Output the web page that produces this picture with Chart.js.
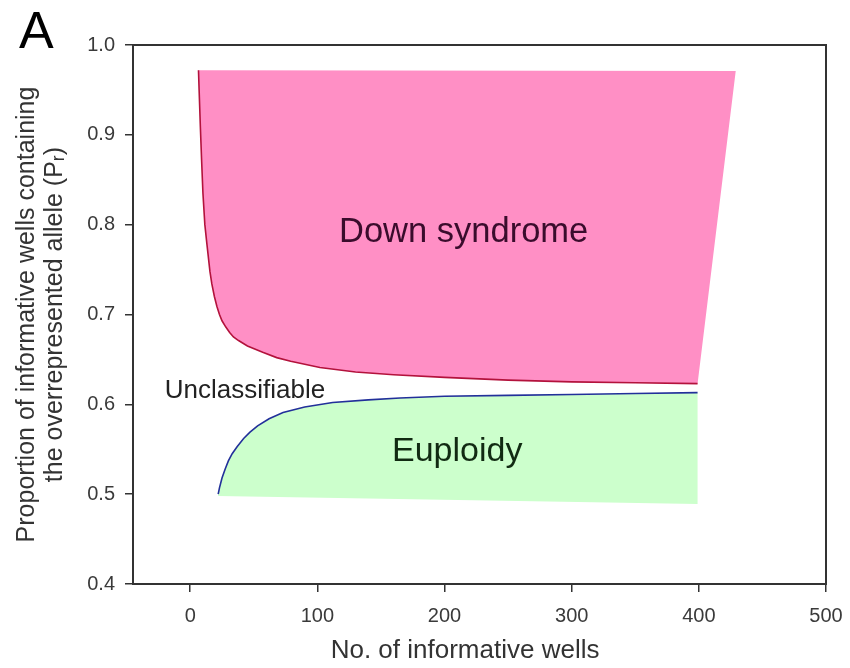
<!DOCTYPE html>
<html><head><meta charset="utf-8">
<script src="https://cdn.jsdelivr.net/npm/chart.js@4/dist/chart.umd.min.js"></script>
<style>html,body{margin:0;padding:0;background:#fff}#wrap{width:850px;height:668px}</style>
</head><body><div id="wrap"><canvas id="c" width="850" height="668"></canvas></div>
<script>
// ---- data ----
const xTickValues = [0, 100, 200, 300, 400, 500];
const yTickValues = [0.4, 0.5, 0.6, 0.7, 0.8, 0.9, 1.0];

// Down syndrome lower boundary (red curve)
const downX = [6.5, 7, 8, 9, 10, 11.5, 13, 15.5, 17, 19, 21, 23, 25, 28, 31, 34, 38, 45, 57, 68, 79, 102, 130, 160, 200, 250, 300, 350, 399];
const downY = [0.972, 0.95, 0.908, 0.87, 0.835, 0.80, 0.78, 0.748, 0.734, 0.72, 0.709, 0.700, 0.693, 0.686, 0.680, 0.675, 0.671, 0.665, 0.658, 0.652, 0.648, 0.641, 0.636, 0.633, 0.630, 0.627, 0.625, 0.624, 0.623];
// Down syndrome region: upper corners (right, left)
const downTopX = [429, 6.5];
const downTopY = [0.971, 0.972];

// Euploidy upper boundary (blue curve)
const euX = [22, 23, 25, 27.5, 30, 33, 37, 42, 47, 53, 62, 73, 90, 112, 140, 165, 200, 250, 300, 350, 399];
const euY = [0.50, 0.507, 0.518, 0.528, 0.537, 0.545, 0.553, 0.562, 0.569, 0.576, 0.584, 0.591, 0.597, 0.602, 0.605, 0.607, 0.609, 0.610, 0.611, 0.612, 0.613];
// Euploidy region: lower corners (right, left)
const euBottomX = [399, 22];
const euBottomY = [0.489, 0.498];

const regionNames = ['Down syndrome', 'Euploidy', 'Unclassifiable'];

// ---- build datasets ----
const toPts = (xs, ys) => xs.map((x, i) => ({x: x, y: ys[i]}));
const downCurve = toPts(downX, downY);
const downShape = downCurve.concat(toPts(downTopX, downTopY));
const euCurve = toPts(euX, euY);
const euShape = euCurve.concat(toPts(euBottomX, euBottomY));

const FONT = "'Liberation Sans', Arial, sans-serif";

const annotations = [
  {text: regionNames[0], x: 215, y: 0.781, size: 34.5, color: '#3a0c2c', align: 'center'},
  {text: regionNames[1], x: 210, y: 0.537, size: 34, color: '#112a12', align: 'center'},
  {text: regionNames[2], x: -20, y: 0.607, size: 26, color: '#222222', align: 'left'}
];

const decor = {
  id: 'decor',
  afterDatasetsDraw(chart) {
    const {ctx, chartArea: a} = chart;
    ctx.save();
    ctx.strokeStyle = '#333';
    ctx.lineWidth = 2;
    ctx.strokeRect(a.left, a.top, a.right - a.left, a.bottom - a.top);
    ctx.restore();
  },
  afterDraw(chart) {
    const {ctx, scales} = chart;
    ctx.save();
    ctx.textBaseline = 'alphabetic';
    annotations.forEach(t => {
      ctx.font = t.size + 'px ' + FONT;
      ctx.fillStyle = t.color;
      ctx.textAlign = t.align;
      ctx.fillText(t.text, scales.x.getPixelForValue(t.x), scales.y.getPixelForValue(t.y));
    });
    ctx.font = '52px ' + FONT;
    ctx.fillStyle = '#000';
    ctx.textAlign = 'left';
    ctx.fillText('A', 19, 48);
    ctx.restore();
  }
};

new Chart(document.getElementById('c'), {
  type: 'scatter',
  data: {
    datasets: [
      {data: downCurve, showLine: true, borderColor: '#b3123c', borderWidth: 1.6, pointRadius: 0, tension: 0, fill: false, order: 0},
      {data: euCurve, showLine: true, borderColor: '#22309a', borderWidth: 1.6, pointRadius: 0, tension: 0, fill: false, order: 0},
      {data: downShape, showLine: true, borderWidth: 0, borderColor: 'rgba(0,0,0,0)', backgroundColor: 'rgb(255,143,197)', pointRadius: 0, tension: 0, fill: 'shape', order: 1},
      {data: euShape, showLine: true, borderWidth: 0, borderColor: 'rgba(0,0,0,0)', backgroundColor: 'rgb(204,255,204)', pointRadius: 0, tension: 0, fill: 'shape', order: 1}
    ]
  },
  options: {
    responsive: false,
    animation: false,
    devicePixelRatio: 1,
    layout: {padding: {left: 0, right: 24, top: 45, bottom: 0}},
    plugins: {legend: {display: false}, tooltip: {enabled: false}},
    scales: {
      x: {
        type: 'linear', min: -45, max: 500,
        afterBuildTicks: s => { s.ticks = xTickValues.map(v => ({value: v})); },
        afterFit: s => { s.height = 84; s.paddingLeft = 0; s.paddingRight = 0; },
        grid: {display: true, drawOnChartArea: false, drawTicks: true, tickLength: 8, color: '#333', lineWidth: 1.5},
        border: {display: true, color: '#333', width: 2},
        ticks: {color: '#3a3a3a', font: {family: FONT, size: 20}, padding: 12, maxRotation: 0, callback: v => String(v)},
        title: {display: true, text: 'No. of informative wells    ', color: '#333', font: {family: FONT, size: 26}, padding: {top: 0, bottom: 2}}
      },
      y: {
        type: 'linear', min: 0.4, max: 1.0,
        afterBuildTicks: s => { s.ticks = yTickValues.map(v => ({value: v})); },
        afterFit: s => { s.width = 133; s.paddingTop = 0; s.paddingBottom = 0; },
        grid: {display: true, drawOnChartArea: false, drawTicks: true, tickLength: 8, color: '#333', lineWidth: 1.5},
        border: {display: true, color: '#333', width: 2},
        ticks: {color: '#3a3a3a', font: {family: FONT, size: 20}, padding: 10, callback: v => Number(v).toFixed(1)},
        title: {display: true, text: ['Proportion of informative wells containing', 'the overrepresented allele (P\u1D63)'], color: '#333', font: {family: FONT, size: 25, lineHeight: 1.12}, padding: {top: 13, bottom: 0}}
      }
    }
  },
  plugins: [decor]
});
</script>
</body></html>
